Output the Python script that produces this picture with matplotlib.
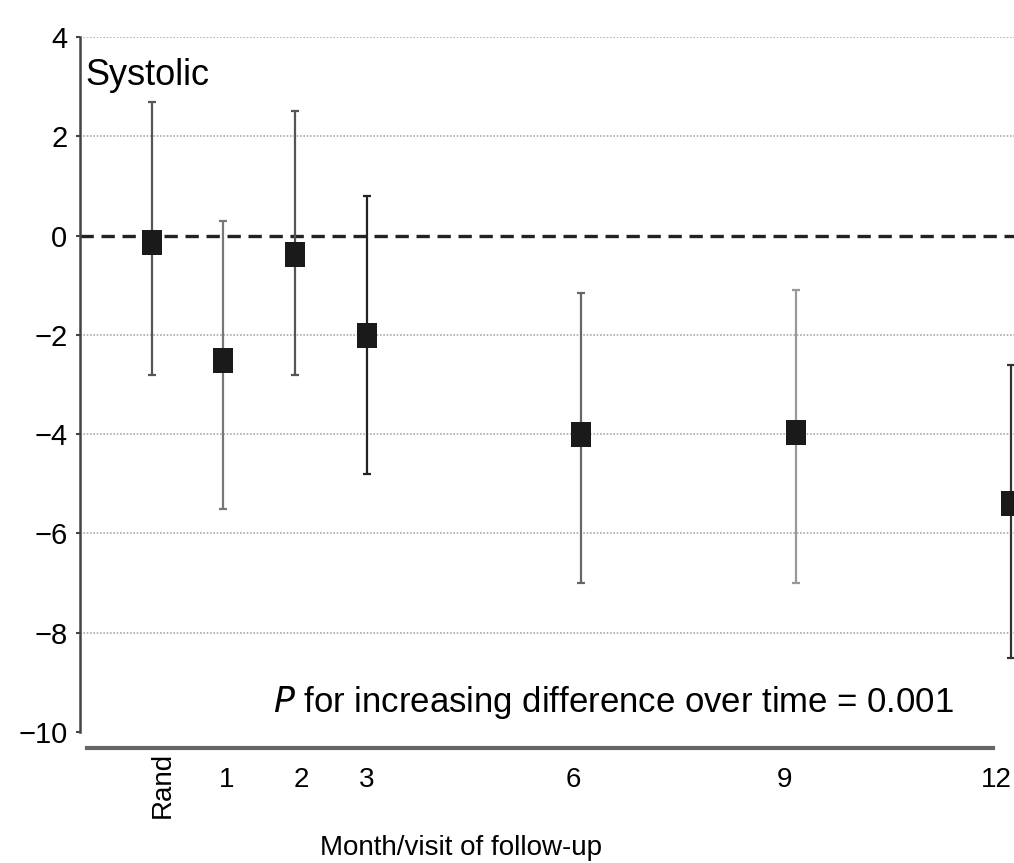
import matplotlib.pyplot as plt
import matplotlib.transforms as mtransforms
from matplotlib.lines import Line2D

plt.rcParams['font.family'] = ['Liberation Sans Narrow', 'Liberation Sans', 'DejaVu Sans']

# data
months = [0, 1, 2, 3, 6, 9, 12]
mean_diff = [-0.12, -2.5, -0.38, -2.0, -4.0, -3.95, -5.38]
ci_low = [-2.8, -5.5, -2.8, -4.8, -7.0, -7.0, -8.5]
ci_high = [2.7, 0.3, 2.5, 0.8, -1.15, -1.1, -2.6]
bar_colors = ["#555555", "#777777", "#555555", "#222222", "#666666", "#999999", "#333333"]

tick_labels = ["Rand", "1", "2", "3", "6", "9", "12"]
tick_pos = [0.16, 1.05, 2.09, 3.0, 5.89, 8.84, 11.8]
y_ticks = [4, 2, 0, -2, -4, -6, -8, -10]
y_tick_labels = ["4", "2", "0", "\u22122", "\u22124", "\u22126", "\u22128", "\u221210"]

fig = plt.figure(figsize=(10.14, 8.63), dpi=100)
ax = fig.add_axes([80 / 1014, 131 / 863, (1014 - 80) / 1014, 695 / 863])
ax.set_xlim(-1.0, 12.04)
ax.set_ylim(-10, 4)

# gridlines
for y in y_ticks:
    if y == 0:
        ax.axhline(y, color="#222222", lw=2.4, linestyle=(0, (4.0, 2.3)), zorder=2)
    elif y > -10:
        ax.axhline(y, color="#aaaaaa", lw=1.2, linestyle=(0, (1, 1)), zorder=1)

for i in range(len(months)):
    lo = mean_diff[i] - ci_low[i]
    hi = ci_high[i] - mean_diff[i]
    ax.errorbar(months[i], mean_diff[i], yerr=[[lo], [hi]], fmt="none",
                ecolor=bar_colors[i], elinewidth=1.6, capsize=3, capthick=1.6,
                zorder=3, clip_on=False)

# slightly tall rectangular markers, as in the figure
box = [(-0.4, -0.5), (0.4, -0.5), (0.4, 0.5), (-0.4, 0.5), (-0.4, -0.5)]
ax.plot(months, mean_diff, linestyle="none", marker=box, color="#1a1a1a",
        markersize=18, markeredgewidth=0, zorder=4, clip_on=False)

for s in ["top", "right", "bottom"]:
    ax.spines[s].set_visible(False)
ax.spines["left"].set_color("#444444")
ax.spines["left"].set_linewidth(1.8)

ax.set_yticks(y_ticks)
ax.set_yticklabels(y_tick_labels, fontsize=21)
ax.tick_params(axis="y", length=3, width=1.5, color="#444444", pad=6)

ax.set_xticks(tick_pos)
ax.set_xticklabels(tick_labels, fontsize=20, va="top")
ax.tick_params(axis="x", length=0, pad=25)
rand_lbl = ax.get_xticklabels()[0]
rand_lbl.set_rotation(90)
rand_lbl.set_transform(rand_lbl.get_transform() +
                       mtransforms.ScaledTranslation(0, 11 / 72, fig.dpi_scale_trans))

# separate x axis rule below the plot
fig.add_artist(Line2D([87 / 1014, 993 / 1014], [1 - 748 / 863, 1 - 748 / 863],
                      color="#666666", lw=3))

ax.text(-0.92, 3.22, "Systolic", fontsize=26, ha="left", va="center")
ax.text(1.69, -9.4, "$\\it{P}$ for increasing difference over time = 0.001",
        fontsize=25, ha="left", va="center")
fig.text(461 / 1014, 1 - 848 / 863, "Month/visit of follow-up", fontsize=20,
         ha="center", va="center")

plt.savefig("out.png", dpi=100)
